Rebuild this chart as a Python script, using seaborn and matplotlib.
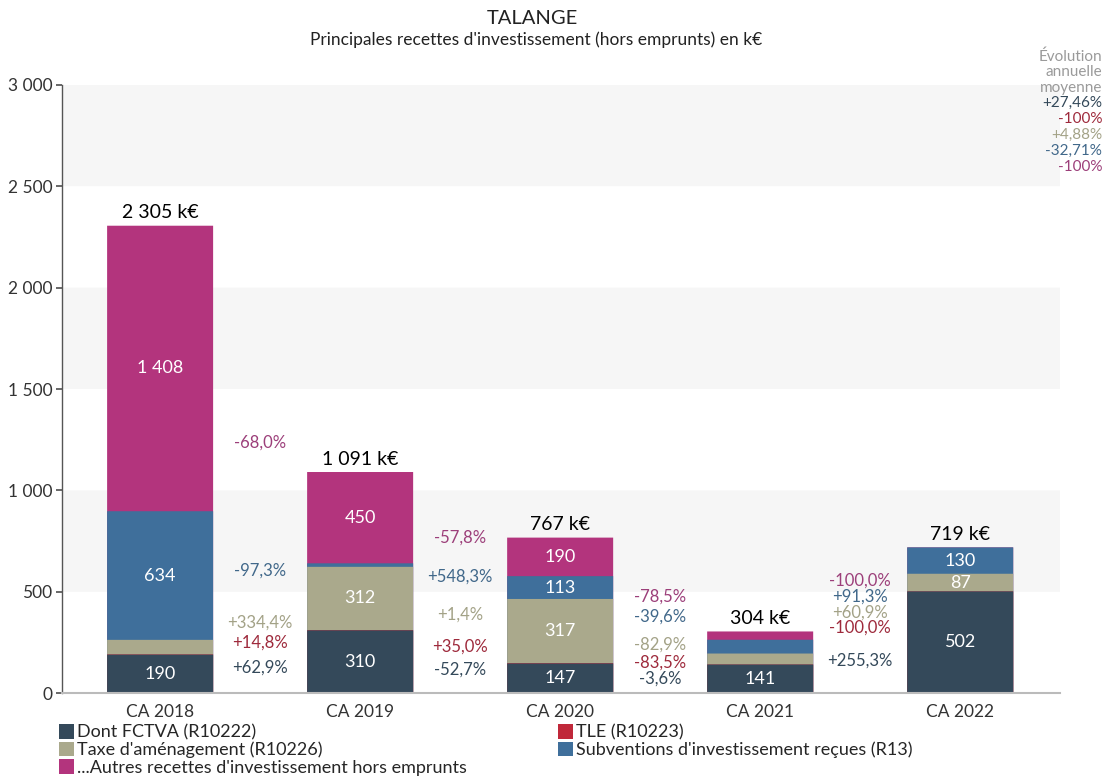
import numpy as np
import seaborn as sns
import matplotlib.pyplot as plt
from matplotlib.patches import Patch

# valeurs (k€)
years = ["CA 2018", "CA 2019", "CA 2020", "CA 2021", "CA 2022"]
fctva = [190.2, 309.8, 146.6, 141.3, 502.0]
tle = [0.968, 1.111, 1.5, 0.2475, 0.0]
taxe = [71.87, 312.2, 316.57, 54.05, 86.96]
subventions = [634.3, 17.36, 112.55, 67.98, 130.05]
autres = [1407.8, 450.2, 190.0, 40.85, 0.0]

names = ["Dont FCTVA (R10222)", "TLE (R10223)", "Taxe d'aménagement (R10226)",
         "Subventions d'investissement reçues (R13)",
         "...Autres recettes d'investissement hors emprunts"]
colors = ["#34495a", "#c0283a", "#aaa98c", "#3f6f9b", "#b3347d"]
text_colors = ["#34495a", "#9e2a3c", "#a3a287", "#41688a", "#9c3f7a"]

sns.set_theme(style="white")
plt.rcParams['font.family'] = ['Lato', 'DejaVu Sans']


def fmt(v):
    return "{:,.0f}".format(v).replace(",", " ")


def pct(v):
    return "{:+.1f}%".format(v).replace(".", ",")


vals = np.array([fctva, tle, taxe, subventions, autres])
cum = vals.cumsum(axis=0)
bottoms = cum - vals
totals = cum[-1]

fig = plt.figure(figsize=(11.09, 7.78), dpi=100)
ax = fig.add_axes([0.056, 0.109, 0.9, 0.782])

for lo in (500, 1500, 2500):
    ax.axhspan(lo, lo + 500, color="#f6f6f6", zorder=0, lw=0)

# barres empilées : on dessine les cumuls du plus grand au plus petit
for k in range(4, -1, -1):
    sns.barplot(x=years, y=cum[k], color=colors[k], width=0.53,
                saturation=1, linewidth=0, ax=ax, zorder=2)
for p in ax.patches:
    p.set_snap(False)

# valeurs dans les segments
for i in range(len(years)):
    for k in range(5):
        if vals[k, i] >= 80:
            ax.text(i, bottoms[k, i] + vals[k, i] / 2, fmt(vals[k, i]),
                    ha="center", va="center", color="white", fontsize=13, zorder=3)
    ax.text(i, totals[i] + 22, fmt(totals[i]) + " k€", ha="center", va="bottom",
            color="black", fontsize=14, zorder=3)

# évolutions entre deux années
gap = 78
for i in range(len(years) - 1):
    centres = [(bottoms[k, i] + vals[k, i] / 2 + bottoms[k, i + 1] + vals[k, i + 1] / 2) / 2
               for k in range(5)]
    prev = -1e9
    for k in sorted(range(5), key=lambda j: centres[j]):
        y = max(centres[k], prev + gap)
        prev = y
        ax.text(i + 0.5, y, pct((vals[k, i + 1] / vals[k, i] - 1) * 100),
                ha="center", va="center", color=text_colors[k], fontsize=12, zorder=3)

ax.set_xlim(-0.49, 4.5)
ax.set_ylim(0, 3000)
ax.set_yticks(range(0, 3001, 500))
ax.set_yticklabels([fmt(v) for v in range(0, 3001, 500)])
ax.tick_params(axis="y", left=True, length=4, color="#555555", labelsize=12.5,
               labelcolor="#333333", pad=3)
ax.tick_params(axis="x", bottom=False, labelsize=12.5, labelcolor="#333333", pad=2)
ax.set_xlabel("")
ax.set_ylabel("")
for s in ("top", "right"):
    ax.spines[s].set_visible(False)
ax.spines["left"].set_color("#555555")
ax.spines["left"].set_linewidth(1)
ax.spines["bottom"].set_color("#bbbbbb")
ax.spines["bottom"].set_linewidth(1.5)

fig.text(0.48, 0.976, "TALANGE", ha="center", va="center", fontsize=14.5, color="#222222")
fig.text(0.483, 0.949, "Principales recettes d'investissement (hors emprunts) en k€",
         ha="center", va="center", fontsize=12.5, color="#222222")

# évolution annuelle moyenne
head = ["Évolution", "annuelle", "moyenne"]
for j, t in enumerate(head):
    fig.text(0.9937, 1 - (57 + 15.5 * j) / 778, t, ha="right", va="center",
             fontsize=11, color="#9a9a9a")
for j in range(5):
    if vals[j, -1] == 0:
        txt = "-100%"
    else:
        r = ((vals[j, -1] / vals[j, 0]) ** (1 / 4) - 1) * 100
        txt = "{:+.2f}%".format(r).replace(".", ",")
    fig.text(0.9937, 1 - (103 + 16 * j) / 778, txt, ha="right", va="center",
             fontsize=11, color=text_colors[j])

# légende
handles = [Patch(facecolor=c, edgecolor="none") for c in colors]
kw = dict(loc="upper left", frameon=False, handlelength=0.85, handleheight=0.85,
          handletextpad=0.15, labelspacing=0.05, borderpad=0, borderaxespad=0,
          fontsize=13)
fig.legend([handles[0], handles[2], handles[4]], [names[0], names[2], names[4]],
           bbox_to_anchor=(0.053, 0.069), **kw)
fig.legend([handles[1], handles[3]], [names[1], names[3]],
           bbox_to_anchor=(0.503, 0.069), **kw)

fig.savefig("out.png", dpi=100)
